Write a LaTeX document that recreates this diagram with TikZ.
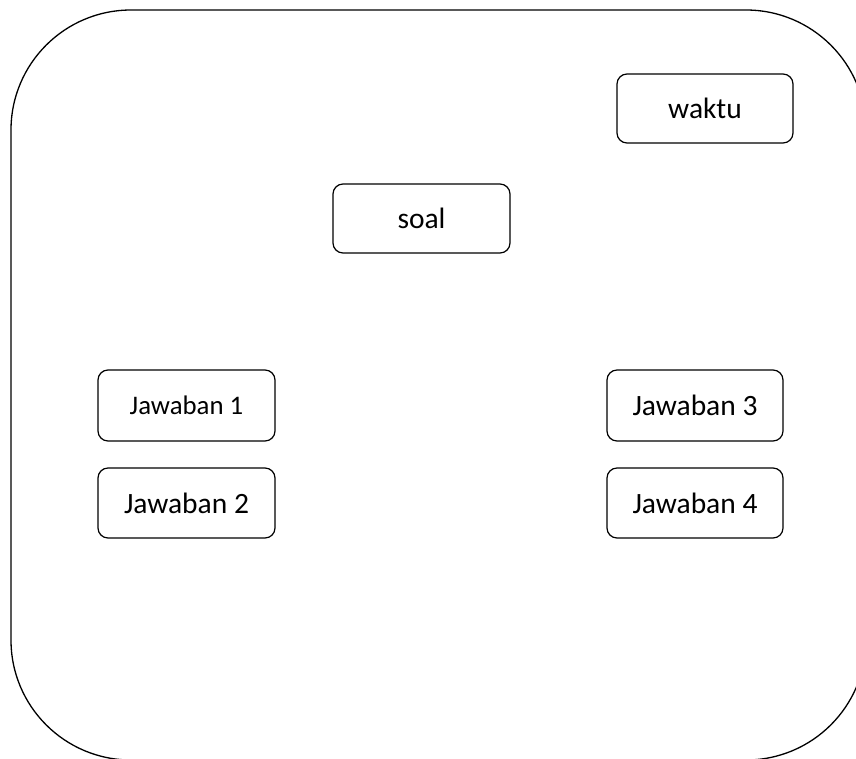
\documentclass[tikz,border=0pt]{standalone}
\usepackage{fontspec}
\setmainfont{Carlito}
\begin{document}
\begin{tikzpicture}[x=1pt,y=-1pt,
  box/.style={draw=black, line width=1.2pt, rounded corners=10pt,
    minimum width=176pt, minimum height=70pt, inner sep=0pt,
    font=\fontsize{29.5}{35}\selectfont},
  frame/.style={draw=black, line width=1.3pt, rounded corners=120pt}]
  \useasboundingbox (0,0) rectangle (856,758);
  \clip (0,0) rectangle (856,758);
  % outer rounded frame (runs past the right and bottom edges)
  \draw[frame] (11,10) rectangle (866,760);
  % elements
  \node[box, minimum height=69pt] (waktu) at (705,108.5) {waktu};
  \node[box, minimum width=177pt, minimum height=69pt] (soal) at (421.5,218.5) {soal};
  \node[box, minimum width=177pt, minimum height=71pt, font=\fontsize{26.8}{32}\selectfont] (j1) at (186.5,405.5) {Jawaban 1};
  \node[box, minimum width=177pt] (j2) at (186.5,503) {Jawaban 2};
  \node[box, minimum height=71pt] (j3) at (695,405.5) {Jawaban 3};
  \node[box] (j4) at (695,503) {Jawaban 4};
\end{tikzpicture}
\end{document}
